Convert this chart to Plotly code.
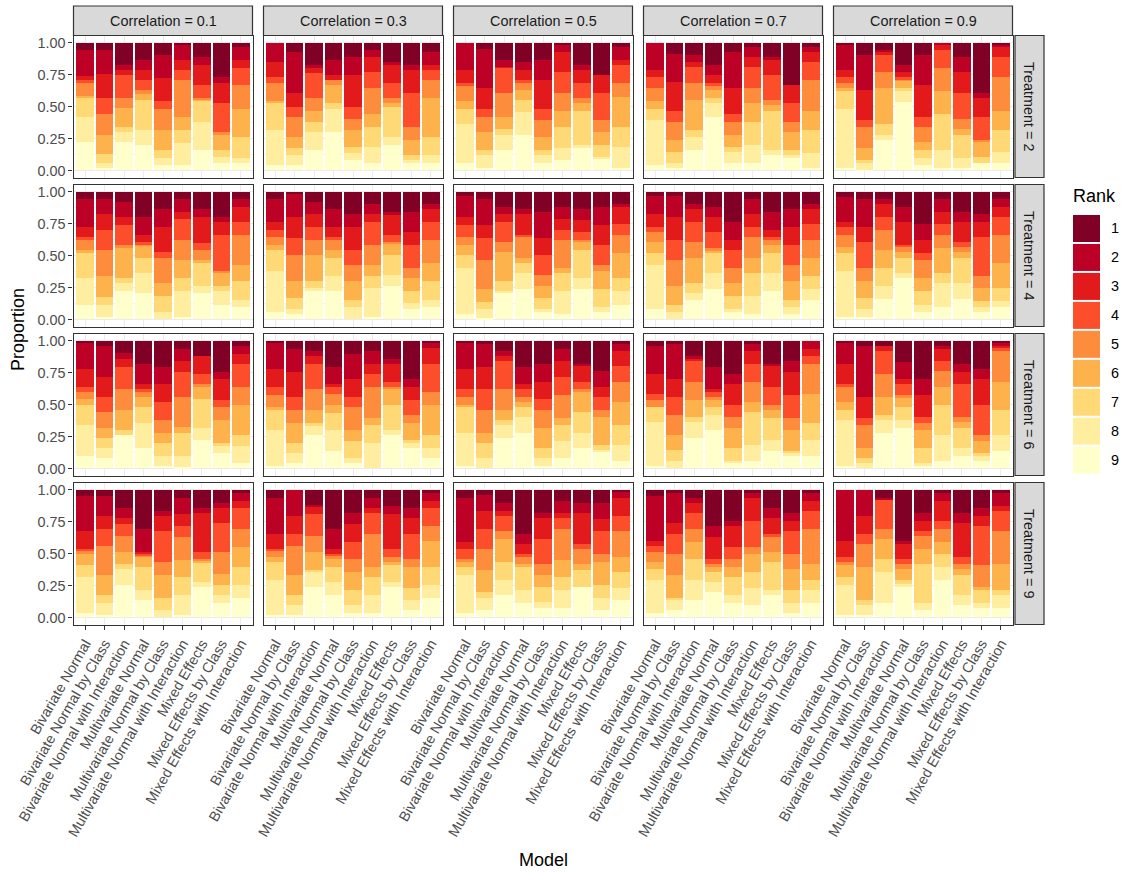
import plotly.graph_objects as go

models = ["Bivariate Normal", "Bivariate Normal by Class", "Bivariate Normal with Interaction",
          "Multivariate Normal", "Multivariate Normal by Class", "Multivariate Normal with Interaction",
          "Mixed Effects", "Mixed Effects by Class", "Mixed Effects with Interaction"]
ranks = [1, 2, 3, 4, 5, 6, 7, 8, 9]
rank_colors = ["#800026", "#BD0026", "#E31A1C", "#FC4E2A", "#FD8D3C",
               "#FEB24C", "#FED976", "#FFEDA0", "#FFFFCC"]
correlations = ["0.1", "0.3", "0.5", "0.7", "0.9"]
treatments = ["2", "4", "6", "9"]

# Cumulative proportions per model (bottom-up): top of rank 9, 8, 7, 6, 5, 4, 3, 2; rank 1 fills to 1.
cum_t2_c01 = [
    [0.225, 0.42, 0.565, 0.585, 0.68, 0.705, 0.74, 0.94],
    [0.02, 0.06, 0.125, 0.28, 0.445, 0.565, 0.757, 0.94],
    [0.225, 0.304, 0.343, 0.487, 0.565, 0.743, 0.783, 0.822],
    [0.2, 0.32, 0.547, 0.6, 0.626, 0.704, 0.783, 0.861],
    [0.045, 0.1, 0.16, 0.32, 0.484, 0.542, 0.723, 0.9],
    [0.045, 0.217, 0.32, 0.421, 0.704, 0.783, 0.861, 0.987],
    [0.162, 0.382, 0.542, 0.56, 0.565, 0.665, 0.822, 0.885],
    [0.06, 0.107, 0.162, 0.28, 0.304, 0.524, 0.68, 0.728],
    [0.06, 0.1, 0.264, 0.484, 0.665, 0.798, 0.861, 0.963]]
cum_t2_c03 = [
    [0.045, 0.32, 0.524, 0.54, 0.68, 0.728, 0.846, 1.0],
    [0.045, 0.123, 0.178, 0.264, 0.421, 0.5, 0.602, 0.924],
    [0.162, 0.304, 0.382, 0.461, 0.563, 0.76, 0.8, 0.822],
    [0.304, 0.484, 0.524, 0.665, 0.704, 0.704, 0.743, 0.861],
    [0.084, 0.139, 0.186, 0.319, 0.406, 0.5, 0.743, 0.885],
    [0.06, 0.186, 0.343, 0.445, 0.641, 0.767, 0.885, 0.94],
    [0.2, 0.264, 0.5, 0.524, 0.563, 0.68, 0.822, 0.846],
    [0.06, 0.084, 0.123, 0.24, 0.343, 0.602, 0.783, 0.822],
    [0.06, 0.123, 0.264, 0.563, 0.704, 0.783, 0.822, 0.924]]
cum_t2_c05 = [
    [0.06, 0.366, 0.484, 0.54, 0.665, 0.68, 0.783, 1.0],
    [0.021, 0.123, 0.162, 0.304, 0.421, 0.484, 0.641, 0.948],
    [0.162, 0.28, 0.327, 0.421, 0.602, 0.806, 0.81, 0.861],
    [0.28, 0.46, 0.547, 0.626, 0.68, 0.704, 0.783, 0.846],
    [0.06, 0.123, 0.162, 0.264, 0.398, 0.484, 0.704, 0.861],
    [0.084, 0.178, 0.343, 0.461, 0.602, 0.767, 0.924, 0.979],
    [0.178, 0.2, 0.461, 0.524, 0.563, 0.68, 0.783, 0.822],
    [0.1, 0.107, 0.2, 0.304, 0.398, 0.602, 0.743, 0.743],
    [0.021, 0.186, 0.343, 0.578, 0.68, 0.822, 0.861, 0.963]]
cum_t2_c07 = [
    [0.045, 0.398, 0.484, 0.54, 0.641, 0.728, 0.783, 1.0],
    [0.021, 0.06, 0.147, 0.24, 0.382, 0.461, 0.688, 0.908],
    [0.162, 0.264, 0.319, 0.547, 0.68, 0.806, 0.846, 0.9],
    [0.421, 0.524, 0.563, 0.626, 0.665, 0.68, 0.743, 0.822],
    [0.06, 0.147, 0.186, 0.28, 0.382, 0.445, 0.641, 0.924],
    [0.06, 0.2, 0.382, 0.524, 0.641, 0.806, 0.885, 0.963],
    [0.123, 0.162, 0.461, 0.508, 0.547, 0.743, 0.861, 0.885],
    [0.1, 0.123, 0.162, 0.304, 0.382, 0.524, 0.665, 0.665],
    [0.021, 0.139, 0.319, 0.461, 0.704, 0.846, 0.924, 0.963]]
cum_t2_c09 = [
    [0.021, 0.484, 0.618, 0.641, 0.68, 0.728, 0.783, 0.987],
    [0.005, 0.06, 0.084, 0.178, 0.343, 0.398, 0.626, 0.9],
    [0.241, 0.28, 0.366, 0.641, 0.767, 0.9, 0.924, 0.94],
    [0.539, 0.626, 0.641, 0.704, 0.717, 0.728, 0.767, 0.822],
    [0.045, 0.1, 0.162, 0.225, 0.343, 0.421, 0.665, 0.9],
    [0.021, 0.162, 0.445, 0.618, 0.798, 0.94, 0.987, 1.0],
    [0.021, 0.1, 0.28, 0.327, 0.406, 0.602, 0.767, 0.885],
    [0.06, 0.06, 0.107, 0.225, 0.241, 0.421, 0.563, 0.602],
    [0.06, 0.147, 0.319, 0.461, 0.728, 0.885, 0.963, 0.987]]

cum_t4_c01 = [
    [0.117, 0.321, 0.517, 0.541, 0.62, 0.643, 0.722, 0.942],
    [0.023, 0.117, 0.179, 0.337, 0.541, 0.698, 0.823, 0.942],
    [0.219, 0.282, 0.321, 0.556, 0.58, 0.737, 0.8, 0.918],
    [0.203, 0.36, 0.478, 0.58, 0.593, 0.604, 0.659, 0.8],
    [0.0, 0.062, 0.18, 0.282, 0.478, 0.525, 0.722, 0.863],
    [0.023, 0.219, 0.321, 0.462, 0.62, 0.785, 0.839, 0.942],
    [0.203, 0.258, 0.439, 0.462, 0.541, 0.596, 0.8, 0.863],
    [0.117, 0.219, 0.258, 0.36, 0.376, 0.659, 0.761, 0.8],
    [0.101, 0.156, 0.297, 0.423, 0.659, 0.761, 0.878, 0.942]]
cum_t4_c03 = [
    [0.062, 0.376, 0.541, 0.58, 0.643, 0.698, 0.761, 0.942],
    [0.039, 0.078, 0.164, 0.297, 0.501, 0.635, 0.8, 0.981],
    [0.219, 0.243, 0.297, 0.501, 0.619, 0.722, 0.824, 0.918],
    [0.219, 0.337, 0.478, 0.541, 0.619, 0.643, 0.722, 0.863],
    [0.0, 0.101, 0.156, 0.297, 0.423, 0.541, 0.722, 0.824],
    [0.023, 0.243, 0.337, 0.423, 0.58, 0.761, 0.824, 0.902],
    [0.258, 0.345, 0.501, 0.596, 0.604, 0.659, 0.824, 0.839],
    [0.078, 0.125, 0.219, 0.321, 0.4, 0.58, 0.682, 0.839],
    [0.101, 0.156, 0.297, 0.439, 0.619, 0.761, 0.863, 0.902]]
cum_t4_c05 = [
    [0.039, 0.4, 0.501, 0.58, 0.643, 0.737, 0.8, 0.965],
    [0.01, 0.078, 0.14, 0.242, 0.462, 0.635, 0.737, 0.942],
    [0.203, 0.219, 0.297, 0.525, 0.603, 0.761, 0.824, 0.879],
    [0.242, 0.36, 0.439, 0.478, 0.643, 0.659, 0.824, 0.863],
    [0.062, 0.078, 0.164, 0.258, 0.345, 0.502, 0.635, 0.839],
    [0.039, 0.219, 0.36, 0.4, 0.619, 0.698, 0.785, 0.879],
    [0.242, 0.321, 0.541, 0.611, 0.619, 0.682, 0.777, 0.863],
    [0.062, 0.101, 0.235, 0.376, 0.423, 0.58, 0.737, 0.879],
    [0.117, 0.219, 0.321, 0.517, 0.659, 0.745, 0.879, 0.902]]
cum_t4_c07 = [
    [0.078, 0.423, 0.517, 0.604, 0.682, 0.722, 0.824, 0.965],
    [0.0, 0.062, 0.117, 0.258, 0.462, 0.619, 0.8, 0.965],
    [0.156, 0.203, 0.282, 0.478, 0.603, 0.761, 0.863, 0.902],
    [0.242, 0.36, 0.517, 0.541, 0.556, 0.682, 0.8, 0.879],
    [0.062, 0.078, 0.18, 0.282, 0.4, 0.541, 0.62, 0.761],
    [0.039, 0.18, 0.36, 0.478, 0.643, 0.722, 0.824, 0.942],
    [0.219, 0.36, 0.517, 0.58, 0.619, 0.643, 0.698, 0.839],
    [0.039, 0.101, 0.156, 0.297, 0.423, 0.58, 0.722, 0.863],
    [0.156, 0.242, 0.337, 0.478, 0.619, 0.745, 0.863, 0.902]]
cum_t4_c09 = [
    [0.023, 0.376, 0.517, 0.565, 0.659, 0.722, 0.761, 0.957],
    [0.023, 0.078, 0.164, 0.298, 0.4, 0.604, 0.722, 0.942],
    [0.157, 0.259, 0.4, 0.541, 0.698, 0.8, 0.902, 0.942],
    [0.321, 0.361, 0.479, 0.526, 0.565, 0.581, 0.761, 0.878],
    [0.062, 0.117, 0.219, 0.321, 0.462, 0.517, 0.62, 0.745],
    [0.101, 0.282, 0.36, 0.556, 0.659, 0.745, 0.839, 0.942],
    [0.157, 0.282, 0.478, 0.525, 0.565, 0.604, 0.761, 0.839],
    [0.062, 0.101, 0.141, 0.243, 0.337, 0.643, 0.761, 0.823],
    [0.101, 0.141, 0.243, 0.439, 0.659, 0.8, 0.878, 0.942]]

cum_t6_c01 = [
    [0.094, 0.338, 0.495, 0.542, 0.597, 0.636, 0.777, 0.982],
    [0.079, 0.157, 0.236, 0.314, 0.44, 0.558, 0.715, 0.958],
    [0.259, 0.259, 0.298, 0.455, 0.62, 0.793, 0.856, 0.903],
    [0.157, 0.353, 0.479, 0.558, 0.597, 0.62, 0.66, 0.817],
    [0.016, 0.094, 0.196, 0.275, 0.377, 0.518, 0.66, 0.793],
    [0.008, 0.094, 0.275, 0.322, 0.558, 0.754, 0.84, 0.935],
    [0.22, 0.314, 0.542, 0.636, 0.66, 0.738, 0.88, 0.88],
    [0.118, 0.173, 0.196, 0.377, 0.479, 0.534, 0.699, 0.754],
    [0.039, 0.173, 0.259, 0.495, 0.636, 0.817, 0.895, 0.958]]
cum_t6_c03 = [
    [0.016, 0.298, 0.455, 0.479, 0.573, 0.636, 0.777, 0.982],
    [0.039, 0.118, 0.196, 0.353, 0.455, 0.558, 0.754, 0.935],
    [0.259, 0.338, 0.353, 0.455, 0.62, 0.817, 0.88, 0.919],
    [0.134, 0.298, 0.432, 0.495, 0.581, 0.636, 0.66, 0.793],
    [0.039, 0.079, 0.212, 0.298, 0.479, 0.558, 0.699, 0.895],
    [0.0, 0.196, 0.338, 0.392, 0.636, 0.738, 0.817, 0.919],
    [0.259, 0.298, 0.495, 0.618, 0.636, 0.675, 0.817, 0.856],
    [0.157, 0.196, 0.22, 0.353, 0.416, 0.534, 0.636, 0.699],
    [0.079, 0.157, 0.259, 0.495, 0.597, 0.817, 0.942, 0.982]]
cum_t6_c05 = [
    [0.016, 0.275, 0.479, 0.495, 0.558, 0.62, 0.777, 0.982],
    [0.0, 0.079, 0.196, 0.275, 0.455, 0.62, 0.793, 0.974],
    [0.236, 0.338, 0.377, 0.455, 0.62, 0.84, 0.88, 0.919],
    [0.275, 0.4, 0.479, 0.518, 0.558, 0.62, 0.66, 0.793],
    [0.016, 0.079, 0.157, 0.314, 0.455, 0.542, 0.675, 0.817],
    [0.079, 0.212, 0.338, 0.393, 0.573, 0.715, 0.84, 0.935],
    [0.157, 0.275, 0.44, 0.597, 0.62, 0.675, 0.801, 0.817],
    [0.134, 0.141, 0.181, 0.401, 0.455, 0.558, 0.636, 0.762],
    [0.055, 0.181, 0.338, 0.518, 0.675, 0.801, 0.919, 0.974]]
cum_t6_c07 = [
    [0.016, 0.361, 0.479, 0.479, 0.534, 0.581, 0.738, 0.958],
    [0.0, 0.055, 0.141, 0.259, 0.416, 0.558, 0.699, 0.974],
    [0.236, 0.361, 0.401, 0.534, 0.675, 0.84, 0.856, 0.879],
    [0.298, 0.416, 0.479, 0.534, 0.558, 0.597, 0.62, 0.793],
    [0.039, 0.055, 0.157, 0.314, 0.401, 0.495, 0.66, 0.738],
    [0.055, 0.181, 0.44, 0.518, 0.675, 0.817, 0.919, 0.974],
    [0.134, 0.22, 0.393, 0.455, 0.495, 0.636, 0.801, 0.817],
    [0.094, 0.118, 0.134, 0.298, 0.393, 0.573, 0.754, 0.84],
    [0.094, 0.22, 0.353, 0.581, 0.817, 0.879, 0.935, 1.0]]
cum_t6_c09 = [
    [0.016, 0.377, 0.455, 0.518, 0.636, 0.66, 0.817, 0.982],
    [0.0, 0.039, 0.079, 0.157, 0.338, 0.393, 0.558, 0.958],
    [0.275, 0.377, 0.416, 0.558, 0.738, 0.919, 0.958, 0.958],
    [0.314, 0.377, 0.479, 0.558, 0.573, 0.66, 0.7, 0.833],
    [0.016, 0.039, 0.157, 0.298, 0.353, 0.401, 0.573, 0.699],
    [0.055, 0.259, 0.495, 0.636, 0.762, 0.84, 0.935, 0.958],
    [0.094, 0.157, 0.314, 0.361, 0.401, 0.66, 0.754, 0.817],
    [0.055, 0.094, 0.118, 0.212, 0.259, 0.5, 0.7, 0.78],
    [0.134, 0.259, 0.455, 0.675, 0.919, 0.942, 0.958, 0.982]]

cum_t9_c01 = [
    [0.034, 0.317, 0.411, 0.497, 0.529, 0.537, 0.678, 0.953],
    [0.018, 0.113, 0.175, 0.332, 0.56, 0.694, 0.796, 0.953],
    [0.254, 0.38, 0.419, 0.513, 0.639, 0.733, 0.78, 0.859],
    [0.136, 0.215, 0.395, 0.474, 0.49, 0.497, 0.513, 0.694],
    [0.0, 0.058, 0.152, 0.332, 0.435, 0.678, 0.796, 0.835],
    [0.018, 0.175, 0.317, 0.45, 0.631, 0.717, 0.811, 0.937],
    [0.238, 0.277, 0.435, 0.442, 0.458, 0.513, 0.819, 0.859],
    [0.113, 0.175, 0.254, 0.34, 0.513, 0.741, 0.859, 0.898],
    [0.152, 0.254, 0.395, 0.552, 0.694, 0.859, 0.913, 0.976]]
cum_t9_c03 = [
    [0.018, 0.293, 0.435, 0.474, 0.521, 0.537, 0.654, 0.937],
    [0.018, 0.097, 0.175, 0.332, 0.56, 0.654, 0.796, 1.0],
    [0.238, 0.356, 0.372, 0.513, 0.639, 0.811, 0.874, 0.882],
    [0.175, 0.277, 0.395, 0.458, 0.49, 0.497, 0.537, 0.694],
    [0.034, 0.097, 0.215, 0.356, 0.458, 0.592, 0.733, 0.819],
    [0.034, 0.175, 0.317, 0.395, 0.654, 0.819, 0.859, 0.937],
    [0.238, 0.277, 0.411, 0.435, 0.474, 0.537, 0.811, 0.874],
    [0.058, 0.136, 0.23, 0.395, 0.458, 0.654, 0.78, 0.859],
    [0.152, 0.254, 0.395, 0.599, 0.717, 0.859, 0.913, 0.976]]
cum_t9_c05 = [
    [0.034, 0.332, 0.395, 0.435, 0.458, 0.537, 0.592, 0.937],
    [0.058, 0.152, 0.199, 0.372, 0.537, 0.694, 0.835, 0.961],
    [0.175, 0.293, 0.435, 0.615, 0.678, 0.796, 0.835, 0.898],
    [0.113, 0.215, 0.395, 0.419, 0.474, 0.497, 0.576, 0.654],
    [0.073, 0.12, 0.238, 0.332, 0.419, 0.615, 0.78, 0.819],
    [0.073, 0.215, 0.317, 0.45, 0.694, 0.78, 0.819, 0.913],
    [0.238, 0.238, 0.372, 0.419, 0.537, 0.576, 0.819, 0.898],
    [0.058, 0.152, 0.254, 0.435, 0.497, 0.678, 0.772, 0.898],
    [0.136, 0.23, 0.356, 0.474, 0.678, 0.796, 0.937, 0.992]]
cum_t9_c07 = [
    [0.034, 0.293, 0.38, 0.435, 0.513, 0.56, 0.599, 0.953],
    [0.058, 0.136, 0.152, 0.332, 0.497, 0.654, 0.741, 0.976],
    [0.136, 0.293, 0.458, 0.592, 0.694, 0.819, 0.898, 0.937],
    [0.199, 0.277, 0.356, 0.395, 0.419, 0.458, 0.631, 0.717],
    [0.113, 0.175, 0.317, 0.395, 0.458, 0.552, 0.717, 0.757],
    [0.097, 0.23, 0.356, 0.497, 0.552, 0.757, 0.937, 0.976],
    [0.175, 0.215, 0.435, 0.513, 0.639, 0.654, 0.78, 0.859],
    [0.034, 0.113, 0.215, 0.38, 0.497, 0.678, 0.757, 0.819],
    [0.113, 0.215, 0.293, 0.419, 0.694, 0.835, 0.913, 0.976]]
cum_t9_c09 = [
    [0.018, 0.254, 0.317, 0.411, 0.435, 0.474, 0.599, 1.0],
    [0.018, 0.097, 0.136, 0.395, 0.576, 0.654, 0.796, 1.0],
    [0.113, 0.356, 0.458, 0.615, 0.694, 0.921, 0.921, 0.937],
    [0.238, 0.262, 0.293, 0.38, 0.419, 0.458, 0.576, 0.599],
    [0.058, 0.113, 0.419, 0.537, 0.639, 0.678, 0.757, 0.819],
    [0.293, 0.395, 0.497, 0.592, 0.694, 0.757, 0.913, 0.976],
    [0.097, 0.175, 0.332, 0.38, 0.419, 0.474, 0.741, 0.819],
    [0.073, 0.113, 0.215, 0.238, 0.411, 0.717, 0.796, 0.859],
    [0.073, 0.175, 0.215, 0.419, 0.678, 0.835, 0.874, 0.976]]

facet_grid = [
    [cum_t2_c01, cum_t2_c03, cum_t2_c05, cum_t2_c07, cum_t2_c09],
    [cum_t4_c01, cum_t4_c03, cum_t4_c05, cum_t4_c07, cum_t4_c09],
    [cum_t6_c01, cum_t6_c03, cum_t6_c05, cum_t6_c07, cum_t6_c09],
    [cum_t9_c01, cum_t9_c03, cum_t9_c05, cum_t9_c07, cum_t9_c09],
]


def rank_props(cum_bar):
    bounds = [0.0] + list(cum_bar) + [1.0]
    parts = [max(bounds[i + 1] - bounds[i], 0.0) for i in range(9)]  # rank 9 .. rank 1
    return {9 - i: parts[i] for i in range(9)}


W, H = 1124, 873
def PX(x):
    return x / W
def PY(y):
    return 1 - y / H

FONT = "Liberation Sans, Arial, Helvetica, sans-serif"
panel_left = [73.5 + c * 190 for c in range(5)]
panel_w = 179
panel_top = [35.5 + r * 149 for r in range(4)]
panel_h = 142

fig = go.Figure()
layout_axes = {}
for r in range(4):
    for c in range(5):
        idx = r * 5 + c + 1
        xa = "x" if idx == 1 else f"x{idx}"
        ya = "y" if idx == 1 else f"y{idx}"
        props = [rank_props(b) for b in facet_grid[r][c]]
        for k in reversed(ranks):
            fig.add_trace(go.Bar(
                x=models, y=[p[k] for p in props], name=str(k),
                marker=dict(color=rank_colors[k - 1], line=dict(width=0)),
                xaxis=xa, yaxis=ya, showlegend=False,
                hovertemplate="%{x}<br>Rank " + str(k) + ": %{y:.2f}<extra></extra>"))
        xkey = "xaxis" if idx == 1 else f"xaxis{idx}"
        ykey = "yaxis" if idx == 1 else f"yaxis{idx}"
        layout_axes[xkey] = dict(
            domain=[PX(panel_left[c]), PX(panel_left[c] + panel_w)],
            anchor=ya, type="category", categoryorder="array", categoryarray=models,
            range=[-0.6, 8.6], showgrid=True, gridcolor="#EBEBEB", gridwidth=1.1,
            showline=True, mirror=True, linecolor="#333333", linewidth=1.2,
            ticks="outside" if r == 3 else "", ticklen=4, tickwidth=1, tickcolor="#333333",
            showticklabels=(r == 3), tickangle=-60,
            tickfont=dict(family=FONT, size=14.4, color="#4D4D4D"),
            automargin=False, zeroline=False, fixedrange=True)
        layout_axes[ykey] = dict(
            domain=[PY(panel_top[r] + panel_h), PY(panel_top[r])],
            anchor=xa, range=[-0.055, 1.055], tick0=0, dtick=0.25, tickformat=".2f",
            showgrid=True, gridcolor="#EBEBEB", gridwidth=1.1,
            minor=dict(dtick=0.125, tick0=0, showgrid=True, gridcolor="#F3F3F3", gridwidth=0.6),
            showline=True, mirror=True, linecolor="#333333", linewidth=1.2,
            ticks="outside" if c == 0 else "", ticklen=4, tickwidth=1, tickcolor="#333333",
            showticklabels=(c == 0),
            tickfont=dict(family=FONT, size=14.4, color="#4D4D4D"),
            automargin=False, zeroline=False, fixedrange=True)

shapes = []
annotations = []
# top strips
for c, corr in enumerate(correlations):
    x0, x1 = panel_left[c], panel_left[c] + panel_w
    shapes.append(dict(type="rect", xref="paper", yref="paper",
                       x0=PX(x0), x1=PX(x1), y0=PY(35.5), y1=PY(6),
                       fillcolor="#D9D9D9", line=dict(color="#333333", width=1.2)))
    annotations.append(dict(xref="paper", yref="paper", x=PX((x0 + x1) / 2), y=PY(21),
                            text=f"Correlation = {corr}", showarrow=False,
                            font=dict(family=FONT, size=14.4, color="#1A1A1A"),
                            xanchor="center", yanchor="middle"))
# right strips
for r, tr in enumerate(treatments):
    y0, y1 = panel_top[r], panel_top[r] + panel_h
    shapes.append(dict(type="rect", xref="paper", yref="paper",
                       x0=PX(1015), x1=PX(1044), y0=PY(y1), y1=PY(y0),
                       fillcolor="#D9D9D9", line=dict(color="#333333", width=1.2)))
    annotations.append(dict(xref="paper", yref="paper", x=PX(1029.5), y=PY((y0 + y1) / 2),
                            text=f"Treatment = {tr}", showarrow=False, textangle=90,
                            font=dict(family=FONT, size=14.4, color="#1A1A1A"),
                            xanchor="center", yanchor="middle"))
# axis titles
annotations.append(dict(xref="paper", yref="paper", x=PX(18), y=PY(330), text="Proportion",
                        showarrow=False, textangle=-90,
                        font=dict(family=FONT, size=18, color="#000000"),
                        xanchor="center", yanchor="middle"))
annotations.append(dict(xref="paper", yref="paper", x=PX(543), y=PY(860), text="Model",
                        showarrow=False, font=dict(family=FONT, size=18, color="#000000"),
                        xanchor="center", yanchor="middle"))
# legend
annotations.append(dict(xref="paper", yref="paper", x=PX(1071), y=PY(196), text="Rank",
                        showarrow=False, font=dict(family=FONT, size=18, color="#000000"),
                        xanchor="left", yanchor="middle"))
for k in ranks:
    top = 215 + (k - 1) * 28.96
    shapes.append(dict(type="rect", xref="paper", yref="paper",
                       x0=PX(1073), x1=PX(1100), y0=PY(top + 27), y1=PY(top),
                       fillcolor=rank_colors[k - 1], line=dict(width=0)))
    annotations.append(dict(xref="paper", yref="paper", x=PX(1109), y=PY(top + 13.5),
                            text=str(k), showarrow=False,
                            font=dict(family=FONT, size=14.4, color="#000000"),
                            xanchor="left", yanchor="middle"))

fig.update_layout(
    width=W, height=H, margin=dict(l=0, r=0, t=0, b=0),
    paper_bgcolor="white", plot_bgcolor="white",
    barmode="stack", bargap=0.1, showlegend=False,
    shapes=shapes, annotations=annotations,
    font=dict(family=FONT, color="#000000"),
    **layout_axes)

fig.write_html("out.html")
